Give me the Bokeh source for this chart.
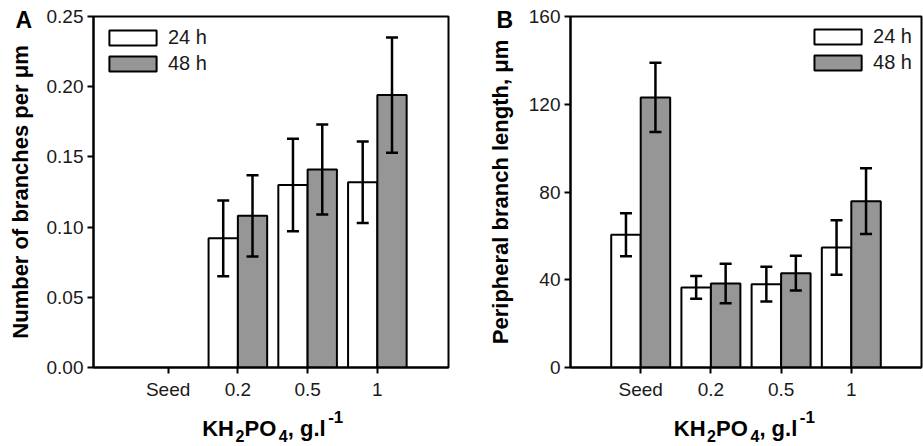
import math
from bokeh.plotting import figure
from bokeh.models import (Range1d, FixedTicker, Legend, LegendItem, Whisker, TeeHead,
                          ColumnDataSource, NumeralTickFormatter, GridBox)
from bokeh.core.properties import value
from bokeh.embed import file_html
from bokeh.resources import INLINE

NAN = float("nan")

# ---- data ----
categories = ["Seed", "0.2", "0.5", "1"]
cat_pos = [1, 2, 3, 4]
series_names = ["24 h", "48 h"]

a_24_mean = [NAN, 0.092, 0.130, 0.132]
a_24_err = [NAN, 0.027, 0.033, 0.029]
a_48_mean = [NAN, 0.108, 0.141, 0.194]
a_48_err = [NAN, 0.029, 0.032, 0.041]

b_24_mean = [60.5, 36.5, 38.0, 54.7]
b_24_err = [9.8, 5.2, 7.9, 12.4]
b_48_mean = [123.1, 38.3, 43.0, 75.8]
b_48_err = [15.8, 9.0, 7.9, 15.0]

a_yticks = [0, 0.05, 0.10, 0.15, 0.20, 0.25]
b_yticks = [0, 40, 80, 120, 160]

a_ylabel = "Number of branches per μm"
b_ylabel = "Peripheral branch length, μm"
panel_letters = ["A", "B"]
# x-axis title pieces: (text, role)
xtitle_pieces = [("KH", "main"), ("2", "sub"), ("PO", "main"), ("4", "sub"),
                 (", g.l", "main"), ("-1", "sup")]

FONT = "Liberation Sans"
GRAY = "#969696"
BAR_W = 0.42
H = 446


def make_panel(m24, e24, m48, e48, yticks, yfmt, ylabel, xr, width,
               bl, br, label_standoff, legend_loc, legend_margin):
    p = figure(width=width, height=H, x_range=Range1d(*xr),
               y_range=Range1d(yticks[0], yticks[-1]),
               output_backend="svg", toolbar_location=None,
               min_border_left=bl, min_border_right=br,
               min_border_top=16, min_border_bottom=79)
    p.grid.visible = False
    p.outline_line_color = "black"
    p.outline_line_width = 2
    p.background_fill_color = "white"

    renderers = []
    for means, errs, fill, sign in ((m24, e24, "white", -1), (m48, e48, GRAY, 1)):
        xs, tops, lo, hi = [], [], [], []
        for c, m, e in zip(cat_pos, means, errs):
            if m is None or math.isnan(m):
                continue
            xs.append(c + sign * BAR_W / 2)
            tops.append(m)
            lo.append(m - e)
            hi.append(m + e)
        src = ColumnDataSource(dict(x=xs, top=tops, lower=lo, upper=hi))
        r = p.vbar(x="x", top="top", bottom=0, width=BAR_W, source=src,
                   fill_color=fill, line_color="black", line_width=2)
        renderers.append(r)
        w = Whisker(source=src, base="x", lower="lower", upper="upper",
                    line_color="black", line_width=2.5, level="overlay",
                    upper_head=TeeHead(size=12, line_width=2.5, line_color="black"),
                    lower_head=TeeHead(size=12, line_width=2.5, line_color="black"))
        p.add_layout(w)

    # area legend swatches are inset by 10% of the glyph box on each side
    legend = Legend(items=[LegendItem(label=series_names[0], renderers=[renderers[0]]),
                           LegendItem(label=series_names[1], renderers=[renderers[1]])],
                    location=legend_loc, glyph_width=59, glyph_height=19,
                    label_height=19, spacing=3, padding=0, margin=legend_margin,
                    label_standoff=6, label_text_font=FONT, label_text_font_size="20px",
                    label_text_color="#1a1a1a",
                    border_line_alpha=0, background_fill_alpha=0)
    p.add_layout(legend)

    xa = p.xaxis[0]
    xa.ticker = FixedTicker(ticks=cat_pos)
    xa.major_label_overrides = {c: lab for c, lab in zip(cat_pos, categories)}
    ya = p.yaxis[0]
    ya.ticker = FixedTicker(ticks=yticks)
    ya.formatter = NumeralTickFormatter(format=yfmt)
    ya.axis_label = ylabel
    ya.axis_label_text_font = FONT
    ya.axis_label_text_font_style = "bold"
    ya.axis_label_text_font_size = "22px"
    ya.axis_label_text_color = "black"
    ya.axis_label_standoff = label_standoff
    for ax in (xa, ya):
        ax.axis_line_color = "black"
        ax.axis_line_width = 2
        ax.major_tick_line_color = "black"
        ax.major_tick_line_width = 2
        ax.major_tick_out = 6
        ax.major_tick_in = 0
        ax.minor_tick_line_color = None
        ax.major_label_text_font = FONT
        ax.major_label_text_font_size = "19px"
        ax.major_label_text_color = "#1a1a1a"
    xa.major_label_standoff = 5
    ya.major_label_standoff = 4
    return p


pa = make_panel(a_24_mean, a_24_err, a_48_mean, a_48_err, a_yticks, "0.00",
                a_ylabel, (-0.07, 5.02), 460, 93, 12, 11, "top_left", 10)
pb = make_panel(b_24_mean, b_24_err, b_48_mean, b_48_err, b_yticks, "0",
                b_ylabel, (0.0, 5.0), 463, 110, 2, 13, "top_right", 9)

# ---- transparent overlay carrying the panel letters and the x-axis titles ----
W = 460 + 463
ov = figure(width=W, height=H, x_range=Range1d(0, W), y_range=Range1d(H, 0),
            output_backend="svg", toolbar_location=None, title=None,
            min_border=0, min_border_left=0, min_border_right=0,
            min_border_top=0, min_border_bottom=0,
            x_axis_location=None, y_axis_location=None)
ov.frame_align = False
ov.grid.visible = False
ov.outline_line_color = None
ov.background_fill_alpha = 0
ov.border_fill_alpha = 0

SHIFT = 0.37  # empirical baseline correction, in em


def base_y(y, size_px):
    return y - SHIFT * size_px


# panel letters (pixel positions in the page)
ov.text(x=[15, 496], y=[base_y(28, 23)] * 2, text=panel_letters, text_font=value(FONT),
        text_font_style="bold", text_font_size="23px", text_baseline="alphabetic",
        text_align="left", text_color="black")

# x-axis titles with sub/superscripts
piece_dx = [0, 33.3, 42.3, 76.6, 85.6, 126.0]
role_style = {"main": (435.7, 22), "sub": (441.0, 16), "sup": (423.0, 17)}
for x_start in (201.7, 673.3):
    for (txt, role), dx in zip(xtitle_pieces, piece_dx):
        yb, fs = role_style[role]
        ov.text(x=[x_start + dx], y=[base_y(yb, fs)], text=[txt], text_font=value(FONT),
                text_font_style="bold", text_font_size=f"{fs}px", text_baseline="alphabetic",
                text_align="left", text_color="black")

grid = GridBox(children=[(pa, 0, 0), (pb, 0, 1), (ov, 0, 0, 1, 2)], spacing=0)
open("out.html", "w").write(file_html(grid, INLINE))
